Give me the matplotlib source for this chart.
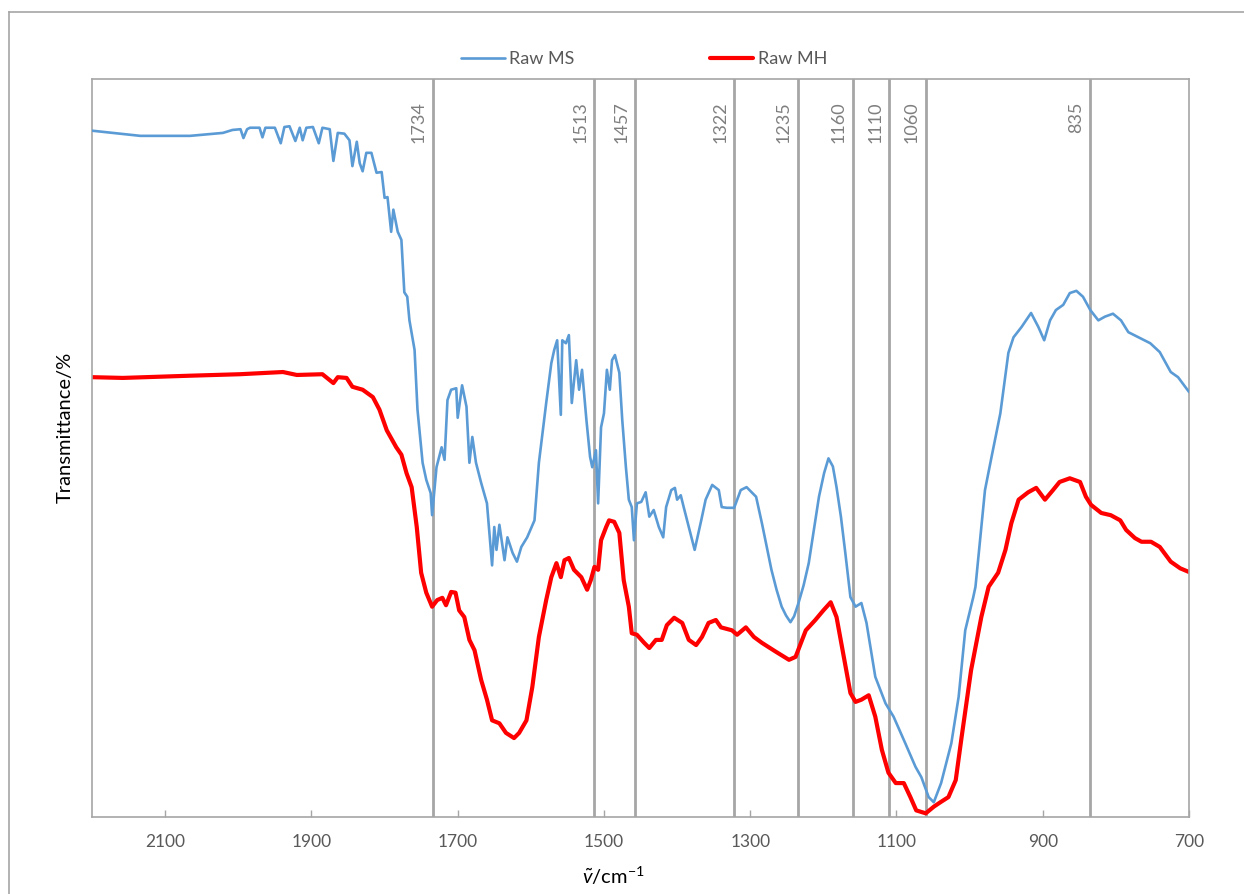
import matplotlib as mpl
mpl.use('Agg')
import matplotlib.pyplot as plt
from matplotlib.lines import Line2D

plt.rcParams['font.family'] = ['Lato', 'DejaVu Sans']
plt.rcParams['mathtext.fontset'] = 'custom'
plt.rcParams['mathtext.rm'] = 'Lato'
plt.rcParams['mathtext.it'] = 'Lato:italic'

# wavenumber (cm-1) and transmittance (arb. %)
ms_wn = [2200, 2134, 2066, 2021, 2008, 1997, 1993, 1988, 1984, 1971, 1967, 1963, 1950, 1942, 1937,
         1930, 1922, 1916, 1912, 1907, 1898, 1890, 1885, 1875, 1870, 1864, 1855, 1848, 1844, 1838,
         1834, 1830, 1825, 1818, 1811, 1804, 1800, 1796, 1791, 1788, 1782, 1777, 1773, 1769, 1766,
         1759, 1755, 1748, 1743, 1737, 1735, 1729, 1722, 1718, 1714, 1709, 1702, 1700, 1694, 1688,
         1684, 1680, 1675, 1668, 1664, 1660, 1653, 1650, 1647, 1643, 1636, 1632, 1625, 1619, 1613,
         1605, 1595, 1589, 1579, 1572, 1568, 1564, 1559, 1557, 1552, 1548, 1544, 1538, 1534, 1530,
         1524, 1519, 1516, 1511, 1508, 1504, 1500, 1496, 1492, 1489, 1485, 1479, 1475, 1470, 1466,
         1462, 1459, 1455, 1449, 1443, 1438, 1432, 1425, 1419, 1415, 1408, 1403, 1400, 1395, 1391,
         1384, 1376, 1367, 1361, 1352, 1343, 1339, 1332, 1322, 1313, 1305, 1292, 1284, 1271, 1264,
         1257, 1251, 1245, 1240, 1234, 1227, 1220, 1213, 1206, 1199, 1193, 1187, 1182, 1176, 1170,
         1163, 1156, 1148, 1141, 1129, 1115, 1104, 1088,
         1074, 1066, 1056, 1049, 1039, 1025, 1015, 1006, 995, 992, 979, 970, 958, 947, 940, 929,
         916, 906, 898, 890, 882, 872, 863, 854, 845, 835, 824, 815, 804, 793, 783,
         767, 753, 740, 725, 715, 700]
ms_t = [93.0, 92.3, 92.3, 92.7, 93.1, 93.2, 92.0, 93.2, 93.4, 93.4, 92.1, 93.4, 93.4, 91.3, 93.5,
        93.6, 91.6, 93.4, 91.7, 93.4, 93.5, 91.3, 93.4, 93.2, 88.9, 92.7, 92.6, 91.7, 88.2, 91.5,
        88.6, 87.5, 90.0, 90.0, 87.3, 87.4, 83.9, 84.0, 79.3, 82.3, 79.3, 78.2, 71.1, 70.5, 67.3,
        63.3, 55.2, 48.0, 45.7, 43.9, 40.9, 47.4, 50.1, 48.4, 56.5, 57.9, 58.1, 54.1, 58.5, 55.6,
        48.0, 51.5, 48.0, 45.3, 43.9, 42.5, 34.1, 39.3, 36.2, 39.6, 34.8, 37.9, 35.8, 34.6, 36.6,
        37.9, 40.2, 48.0, 56.1, 61.5, 63.3, 64.6, 54.5, 64.6, 64.2, 65.3, 56.1, 61.9, 57.9, 60.6,
        53.8, 48.8, 47.4, 49.7, 42.5, 52.8, 54.7, 60.6, 57.9, 61.9, 62.6, 60.2, 53.8, 47.4, 43.0,
        42.0, 37.5, 42.5, 42.7, 44.0, 40.7, 41.6, 39.3, 37.9, 42.0, 44.3, 44.6, 43.0, 43.6, 42.0,
        39.3, 36.2, 40.2, 43.0, 45.0, 44.3, 42.0, 41.9, 41.9, 44.3, 44.7, 43.4, 39.8, 33.5, 30.8,
        28.5, 27.3, 26.4, 27.2, 29.0, 31.4, 34.4, 38.9, 43.4, 46.6, 48.6, 47.5, 44.7, 40.7, 35.8,
        29.8, 28.5, 29.0, 26.3, 19.0, 15.4, 13.6, 10.0,
        6.8, 5.4, 2.7, 2.0, 4.6, 10.0, 16.3, 25.3, 29.8, 31.2, 44.3, 48.8, 54.7, 62.9, 65.0, 66.4,
        68.3, 66.4, 64.6, 67.3, 68.7, 69.4, 71.0, 71.3, 70.5, 68.7, 67.3, 67.8, 68.2, 67.3, 65.7,
        64.9, 64.2, 63.0, 60.3, 59.6, 57.6]

mh_wn = [2200, 2158, 2066, 1998, 1939, 1920, 1885, 1870, 1864, 1852, 1844, 1830, 1816, 1807, 1797,
         1784, 1777, 1770, 1763, 1756, 1750, 1743, 1735, 1728, 1721, 1716, 1709, 1703, 1698, 1691,
         1684, 1677, 1668, 1660, 1653, 1643, 1634, 1623, 1616, 1606, 1598, 1589, 1579, 1572, 1565,
         1559, 1554, 1548, 1541, 1531, 1523, 1518, 1513, 1508, 1504, 1497, 1493, 1486, 1479, 1473,
         1466, 1462, 1455, 1445, 1438, 1429, 1421, 1414, 1404, 1393, 1384, 1374, 1366, 1357, 1347,
         1340, 1325, 1318, 1306, 1295, 1284, 1265, 1247, 1238, 1224, 1211, 1200, 1190, 1182, 1172,
         1163, 1156, 1148, 1138, 1129, 1120, 1111, 1101, 1090, 1081, 1073, 1060, 1049, 1040, 1029,
         1019, 1011, 998, 984, 974, 961, 951, 943, 933, 920, 909, 897, 886, 877, 863,
         849, 841, 834, 820, 807, 794, 786, 774, 765, 752, 740, 725, 712, 700]
mh_t = [59.6, 59.5, 59.8, 60.0, 60.3, 59.9, 60.0, 58.8, 59.6, 59.5, 58.3, 57.9, 56.9, 55.2, 52.4,
        50.1, 49.1, 46.6, 44.7, 39.3, 33.1, 30.4, 28.5, 29.4, 29.7, 28.7, 30.5, 30.4, 28.0, 27.1,
        24.0, 22.6, 18.6, 15.9, 13.1, 12.7, 11.4, 10.7, 11.4, 13.1, 17.6, 24.4, 29.4, 32.5, 34.4,
        32.5, 34.8, 35.1, 33.5, 32.5, 30.8, 32.1, 33.9, 33.5, 37.5, 39.3, 40.2, 40.0, 38.5, 32.1,
        28.5, 24.9, 24.7, 23.6, 22.9, 24.0, 24.0, 26.0, 27.0, 26.3, 24.0, 23.3, 24.4, 26.3, 26.7,
        25.7, 25.3, 24.7, 25.7, 24.4, 23.6, 22.4, 21.3, 21.7, 25.3, 26.7, 28.0, 29.1, 27.1, 21.7,
        16.8, 15.6, 15.9, 16.5, 13.6, 9.1, 6.0, 4.6, 4.6, 2.7, 0.9, 0.5, 1.4, 2.0, 2.7,
        5.0, 10.8, 19.9, 27.1, 31.2, 33.1, 36.2, 39.8, 43.0, 44.0, 44.6, 43.0, 44.3, 45.4, 45.9,
        45.4, 43.4, 42.3, 41.2, 40.9, 40.2, 38.9, 37.8, 37.3, 37.3, 36.6, 34.6, 33.7, 33.2]

peaks = [1734, 1513, 1457, 1322, 1235, 1160, 1110, 1060, 835]
xticks = [2100, 1900, 1700, 1500, 1300, 1100, 900, 700]

grey = '#A6A6A6'

fig = plt.figure(figsize=(12.44, 8.94), dpi=100)
ax = fig.add_axes([0.0740, 0.0861, 0.8818, 0.8255])

for p in peaks:
    ax.axvline(p, color=grey, lw=2.0, zorder=1)
    ax.annotate(str(p), xy=(p, 97.0), xytext=(-6, 0), textcoords='offset pixels',
                rotation=90, ha='right', va='top', fontsize=13, color='#7F7F7F')

ax.plot(ms_wn, ms_t, color='#5B9BD5', lw=1.9, label='Raw MS', zorder=3,
        solid_joinstyle='round', solid_capstyle='round')
ax.plot(mh_wn, mh_t, color='#FF0000', lw=3.0, label='Raw MH', zorder=2,
        solid_joinstyle='round', solid_capstyle='round')

ax.set_xlim(2200, 700)
ax.set_ylim(0, 100)
ax.set_xticks(xticks)
ax.set_yticks([])
ax.tick_params(axis='x', direction='in', length=5, width=1, color=grey,
               labelsize=12.5, labelcolor='#595959', pad=12)
for s in ax.spines.values():
    s.set_color(grey)
    s.set_linewidth(1.2)

ax.set_ylabel('Transmittance/%', fontsize=14.5, color='black')
ax.yaxis.set_label_coords(-0.0164, 0.528)
ax.set_xlabel(r'$\tilde{v}$/cm$^{-1}$', fontsize=14.5, color='black')
ax.xaxis.set_label_coords(0.475, -0.065)

fig.legend(loc='center', bbox_to_anchor=(0.518, 0.934), ncol=2, frameon=False,
           fontsize=13, handlelength=2.4, handletextpad=0.25, columnspacing=7.5,
           labelcolor='#595959')

# outer chart border
fig.add_artist(Line2D([0.0072, 0.0072], [0.0, 0.9866], color=grey, lw=1.2))
fig.add_artist(Line2D([0.0072, 1.0], [0.9866, 0.9866], color=grey, lw=1.2))

fig.savefig('out.png', dpi=100)
